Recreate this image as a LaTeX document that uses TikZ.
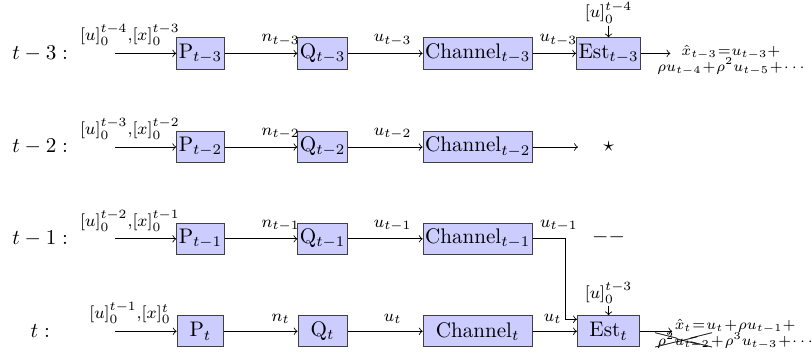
\documentclass[tikz,border=0pt]{standalone}
\usepackage{amssymb}
\usepackage{cancel}
\usetikzlibrary{calc}

\begin{document}
\begin{tikzpicture}[>=to,
	blk/.style={draw=black!75, fill=blue!20, inner sep=1pt, minimum height=0.52cm},
	pblk/.style={blk, minimum width=0.78cm},
	qblk/.style={blk, minimum width=0.82cm},
	chblk/.style={blk, minimum width=1.82cm},
	estblk/.style={blk, minimum width=1.04cm},
	outtext/.style={font=\scriptsize, align=center, inner sep=0pt,
		execute at begin node={\medmuskip=1mu\relax\thickmuskip=1mu\relax}}]
	\useasboundingbox (0,0) rectangle (13.53,5.93);

	% t-3
	\node (r3) at (0.67,5.04) {$t-3:$};
	\coordinate (in3) at (1.92,5.04);
	\node[pblk] (p3) at (3.34,5.04) {$\mathrm{P}_{t-3}$};
	\node[qblk] (q3) at (5.375,5.04) {$\mathrm{Q}_{t-3}$};
	\node[chblk] (c3) at (7.96,5.04) {Channel$_{t-3}$};
	\node[estblk] (e3) at (10.14,5.04) {Est$_{t-3}$};
	\node[inner sep=1pt] (e3in) at (10.14,5.72) {\footnotesize $[u]_0^{t-4}$};
	\coordinate (o3) at (11.17,5.04);
	\node[outtext] (xh3) at (12.18,4.93) {$\hat{x}_{t-3}=u_{t-3}+$\\[-1.5pt]$\rho u_{t-4}+\rho^2 u_{t-5}+\cdots$};

	\draw[->] (in3) -- node[above, pos=0.24] {\footnotesize $[u]_0^{t-4}{,}[x]_0^{t-3}$} (p3);
	\draw[->] (p3) -- node[above, pos=0.77] {\footnotesize $n_{t-3}$} (q3);
	\draw[->] (q3) -- node[above, pos=0.6] {\footnotesize $u_{t-3}$} (c3);
	\draw[->] (c3) -- node[above, pos=0.59] {\footnotesize $u_{t-3}$} (e3);
	\draw[->] (e3in) -- (e3);
	\draw[->] (e3) -- (o3);

	% t-2
	\node (r2) at (0.67,3.48) {$t-2:$};
	\coordinate (in2) at (1.92,3.48);
	\node[pblk] (p2) at (3.34,3.48) {$\mathrm{P}_{t-2}$};
	\node[qblk] (q2) at (5.375,3.48) {$\mathrm{Q}_{t-2}$};
	\node[chblk] (c2) at (7.96,3.48) {Channel$_{t-2}$};
	\coordinate (o2) at (9.63,3.48);
	\node (lost2) at (10.14,3.48) {$\star$};

	\draw[->] (in2) -- node[above, pos=0.24] {\footnotesize $[u]_0^{t-3}{,}[x]_0^{t-2}$} (p2);
	\draw[->] (p2) -- node[above, pos=0.77] {\footnotesize $n_{t-2}$} (q2);
	\draw[->] (q2) -- node[above, pos=0.6] {\footnotesize $u_{t-2}$} (c2);
	\draw[->] (c2) -- (o2);

	% t-1
	\node (r1) at (0.67,1.95) {$t-1:$};
	\coordinate (in1) at (1.92,1.95);
	\node[pblk] (p1) at (3.34,1.95) {$\mathrm{P}_{t-1}$};
	\node[qblk] (q1) at (5.375,1.95) {$\mathrm{Q}_{t-1}$};
	\node[chblk] (c1) at (7.96,1.95) {Channel$_{t-1}$};
	\coordinate (k1) at (9.42,1.95);
	\node (gap1) at (10.14,1.98) {$--$};

	\draw[->] (in1) -- node[above, pos=0.24] {\footnotesize $[u]_0^{t-2}{,}[x]_0^{t-1}$} (p1);
	\draw[->] (p1) -- node[above, pos=0.77] {\footnotesize $n_{t-1}$} (q1);
	\draw[->] (q1) -- node[above, pos=0.6] {\footnotesize $u_{t-1}$} (c1);

	% t
	\node (r0) at (0.67,0.41) {$t:$};
	\coordinate (in0) at (1.92,0.41);
	\node[pblk] (p0) at (3.34,0.41) {$\mathrm{P}_{t}$};
	\node[qblk] (q0) at (5.375,0.41) {$\mathrm{Q}_{t}$};
	\node[chblk] (c0) at (7.96,0.41) {Channel$_{t}$};
	\node[estblk] (e0) at (10.14,0.41) {Est$_{t}$};
	\node[inner sep=1pt] (e0in) at (10.14,1.05) {\footnotesize $[u]_0^{t-3}$};
	\coordinate (o0) at (11.2,0.41);
	\node[outtext] (xh0) at (12.25,0.36) {$\hat{x}_t=u_t+\rho u_{t-1}+$\\[-1.5pt]$\xcancel{\rho^2 u_{t-2}}+\rho^3 u_{t-3}+\cdots$};

	\draw[->] (in0) -- node[above, pos=0.24] {\footnotesize $[u]_0^{t-1}{,}[x]_0^{t}$} (p0);
	\draw[->] (p0) -- node[above, pos=0.77] {\footnotesize $n_{t}$} (q0);
	\draw[->] (q0) -- node[above, pos=0.6] {\footnotesize $u_{t}$} (c0);
	\draw[->] (c0) -- node[above, pos=0.45] {\footnotesize $u_{t}$} (e0);
	\draw[->] (e0in) -- (e0);
	\draw[->] (e0) -- (o0);

	% t-1 reaches Est_t
	\draw[->] (c1) -- node[above, pos=0.8] {\footnotesize $u_{t-1}$} (k1) |- ($(e0.west)+(0,0.2)$);
\end{tikzpicture}
\end{document}
